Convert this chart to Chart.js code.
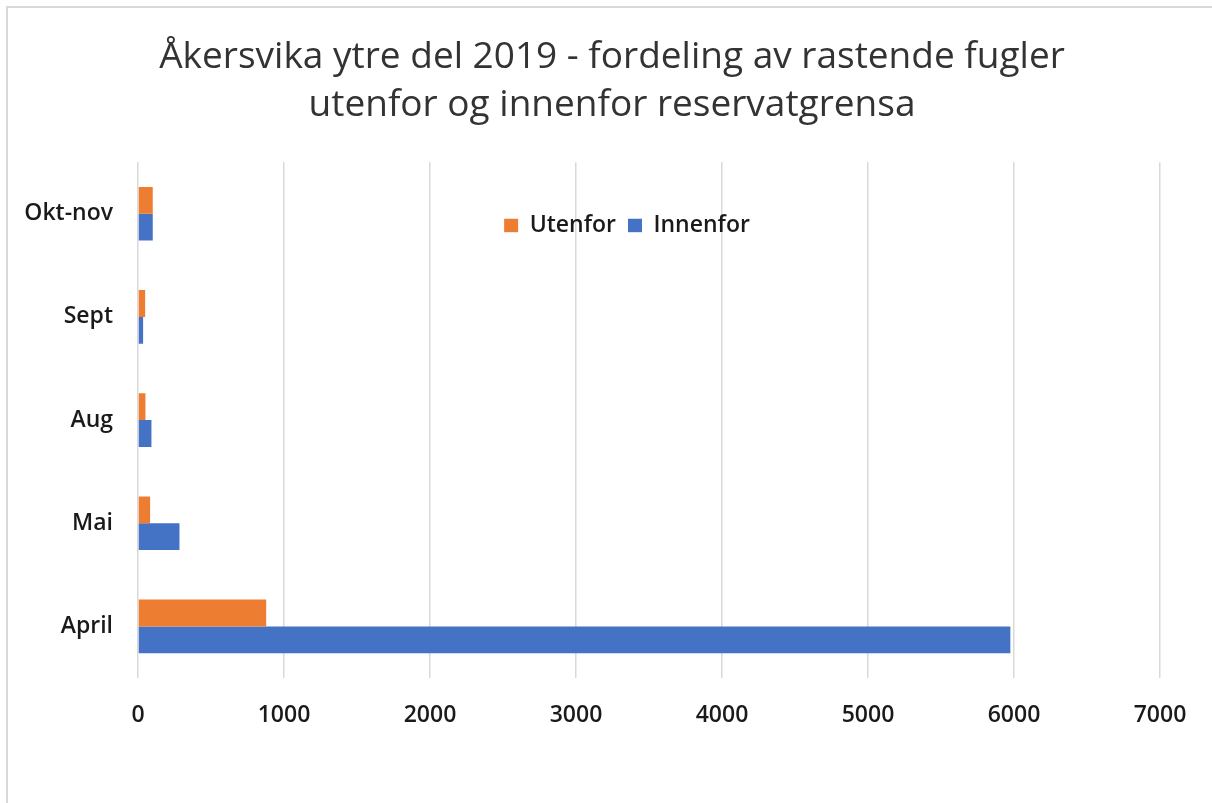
<!DOCTYPE html>
<html>
<head>
<meta charset="utf-8">
<script src="https://cdn.jsdelivr.net/npm/chart.js@4/dist/chart.umd.min.js"></script>
<style>
  html, body { margin: 0; padding: 0; background: #fff; }
  #wrap { position: relative; width: 1212px; height: 803px; overflow: hidden; }
  #frame { position: absolute; left: 6px; top: 6px; width: 1220px; height: 820px;
           border-top: 2px solid #d9d9d9; border-left: 2px solid #d9d9d9; }
  canvas { position: absolute; left: 0; top: 0; }
</style>
</head>
<body>
<div id="wrap">
  <div id="frame"></div>
  <canvas id="chart" width="1212" height="803"></canvas>
</div>
<script>
const titleLines = ['Åkersvika ytre del 2019 - fordeling av rastende fugler', 'utenfor og innenfor reservatgrensa'];
const categories = ['Okt-nov', 'Sept', 'Aug', 'Mai', 'April'];
const utenfor  = [101, 49, 51, 83, 878];
const innenfor = [101, 35, 92, 284, 5975];
const xTicks = [0, 1000, 2000, 3000, 4000, 5000, 6000, 7000];

// legend sits inside the plot area and the title is centred on the page,
// so nudge both after layout
const nudgeBoxes = {
  id: 'nudgeBoxes',
  afterLayout(chart) {
    const l = chart.legend;
    const top = chart.chartArea.top + 40;
    l.top = top;
    l.bottom = top + 30;
    l.left += 43;
    l.right += 43;
    const t = chart.titleBlock;
    t.left += 28;
    t.right += 28;
  }
};

const tickFont = { family: '"Open Sans"', size: 23, weight: 600 };

const ctx = document.getElementById('chart');
new Chart(ctx, {
  type: 'bar',
  data: {
    labels: categories,
    datasets: [
      {
        label: 'Utenfor',
        data: utenfor,
        backgroundColor: '#ED7D31',
        borderWidth: 0,
        categoryPercentage: 0.52,
        barPercentage: 1.0
      },
      {
        label: 'Innenfor',
        data: innenfor,
        backgroundColor: '#4472C4',
        borderWidth: 0,
        categoryPercentage: 0.52,
        barPercentage: 1.0
      }
    ]
  },
  options: {
    indexAxis: 'y',
    responsive: false,
    animation: false,
    layout: { padding: { left: 8, right: 52, top: 0, bottom: 0 } },
    plugins: {
      title: {
        display: true,
        text: titleLines,
        color: '#333',
        font: { family: '"Open Sans"', size: 37, weight: 'normal', lineHeight: 1.3 },
        padding: { top: 33, bottom: 32 }
      },
      legend: {
        position: 'top',
        maxHeight: 1,
        labels: {
          color: '#1a1a1a',
          font: tickFont,
          boxWidth: 14,
          boxHeight: 14,
          padding: 12
        }
      },
      tooltip: { enabled: false }
    },
    scales: {
      x: {
        min: 0,
        max: 7000,
        afterBuildTicks: s => { s.ticks = xTicks.map(v => ({ value: v })); },
        afterFit: s => { s.height = 125; },
        grid: { color: '#d9d9d9', lineWidth: 1.5, drawTicks: false },
        border: { display: false },
        ticks: {
          color: '#1a1a1a',
          font: tickFont,
          padding: 24,
          maxRotation: 0,
          callback: v => String(v)
        }
      },
      y: {
        afterFit: s => { s.width = 130; },
        grid: { display: false, drawTicks: false },
        border: { display: false },
        ticks: {
          color: '#1a1a1a',
          font: tickFont,
          padding: 25
        }
      }
    }
  },
  plugins: [nudgeBoxes]
});
</script>
</body>
</html>
